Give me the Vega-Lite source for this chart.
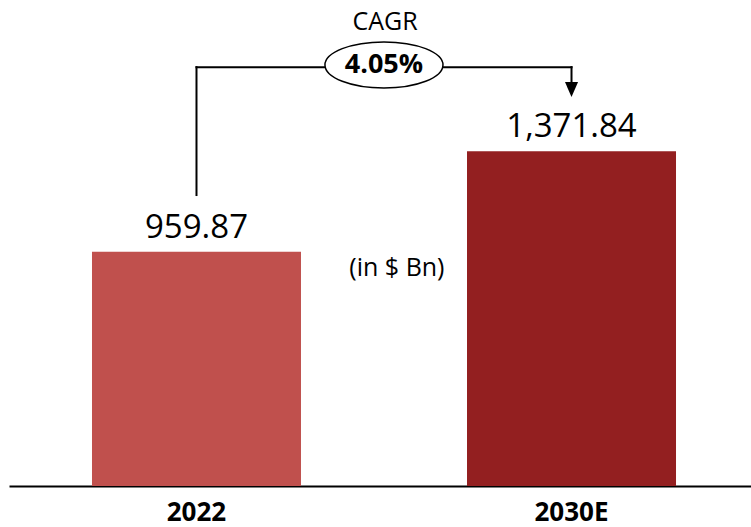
{
  "$schema": "https://vega.github.io/schema/vega-lite/v6.json",
  "width": 751,
  "height": 527,
  "autosize": {"type": "none"},
  "padding": 0,
  "background": "white",
  "config": {"view": {"stroke": null}, "font": "Open Sans"},
  "datasets": {
    "bars": [
      {"year": "2022", "value": 959.87},
      {"year": "2030E", "value": 1371.84}
    ],
    "note": [
      {"cagrLabel": "CAGR", "cagr": "4.05%", "unit": "(in $ Bn)"}
    ]
  },
  "layer": [
    {
      "data": {"name": "bars"},
      "mark": {"type": "bar"},
      "encoding": {
        "x": {
          "field": "year",
          "type": "nominal",
          "scale": {"type": "band", "domain": ["2022", "2030E"], "range": [9, 759], "paddingInner": 0.4427, "paddingOuter": 0.2213},
          "axis": {
            "title": null,
            "orient": "bottom",
            "offset": -41,
            "domainColor": "black",
            "domainWidth": 2,
            "ticks": false,
            "tickSize": 0,
            "grid": false,
            "labelAngle": 0,
            "labelFont": "Open Sans",
            "labelFontWeight": "bold",
            "labelFontSize": 26,
            "labelColor": "black",
            "labelPadding": 13
          }
        },
        "y": {
          "field": "value",
          "type": "quantitative",
          "scale": {"domain": [-168, 1991], "nice": false, "zero": false},
          "axis": null
        },
        "y2": {"datum": 0},
        "color": {
          "field": "year",
          "type": "nominal",
          "scale": {"domain": ["2022", "2030E"], "range": ["#C0504D", "#931F20"]},
          "legend": null
        }
      }
    },
    {
      "data": {"name": "bars"},
      "mark": {"type": "text", "dy": -14, "baseline": "alphabetic", "fontSize": 33, "font": "Open Sans", "color": "black"},
      "encoding": {
        "x": {"field": "year", "type": "nominal"},
        "y": {"field": "value", "type": "quantitative"},
        "text": {"field": "value", "type": "quantitative", "format": ",.2f"}
      }
    },
    {
      "data": {"name": "note"},
      "mark": {"type": "rule", "color": "black", "strokeWidth": 2, "strokeCap": "square"},
      "encoding": {
        "x": {"datum": "2022", "type": "nominal"},
        "y": {"datum": 1192, "type": "quantitative"},
        "y2": {"datum": 1716}
      }
    },
    {
      "data": {"name": "note"},
      "mark": {"type": "rule", "color": "black", "strokeWidth": 2, "strokeCap": "square"},
      "encoding": {
        "x": {"datum": "2022", "type": "nominal"},
        "x2": {"datum": "2030E"},
        "y": {"datum": 1716, "type": "quantitative"}
      }
    },
    {
      "data": {"name": "note"},
      "mark": {"type": "rule", "color": "black", "strokeWidth": 2, "strokeCap": "square"},
      "encoding": {
        "x": {"datum": "2030E", "type": "nominal"},
        "y": {"datum": 1716, "type": "quantitative"},
        "y2": {"datum": 1645}
      }
    },
    {
      "data": {"name": "note"},
      "mark": {"type": "point", "shape": "M-0.87,-1L0.87,-1L0,1Z", "size": 225, "filled": true, "color": "black", "opacity": 1},
      "encoding": {
        "x": {"datum": "2030E", "type": "nominal"},
        "y": {"datum": 1624, "type": "quantitative"}
      }
    },
    {
      "data": {"name": "note"},
      "mark": {"type": "point", "shape": "M-1,0A1,0.39,0,1,1,1,0A1,0.39,0,1,1,-1,0Z", "size": 13924, "filled": true, "fill": "white", "stroke": "black", "strokeWidth": 1.5, "opacity": 1},
      "encoding": {
        "x": {"datum": "2022", "type": "nominal", "bandPosition": 1.397},
        "y": {"datum": 1725, "type": "quantitative"}
      }
    },
    {
      "data": {"name": "note"},
      "mark": {"type": "text", "baseline": "middle", "fontSize": 27, "fontWeight": "bold", "font": "Open Sans", "color": "black"},
      "encoding": {
        "x": {"datum": "2022", "type": "nominal", "bandPosition": 1.397},
        "y": {"datum": 1725, "type": "quantitative"},
        "text": {"field": "cagr"}
      }
    },
    {
      "data": {"name": "note"},
      "mark": {"type": "text", "baseline": "alphabetic", "fontSize": 25, "font": "Open Sans", "color": "black"},
      "encoding": {
        "x": {"datum": "2022", "type": "nominal", "bandPosition": 1.402},
        "y": {"datum": 1868, "type": "quantitative"},
        "text": {"field": "cagrLabel"}
      }
    },
    {
      "data": {"name": "note"},
      "mark": {"type": "text", "baseline": "middle", "fontSize": 25, "font": "Open Sans", "color": "black"},
      "encoding": {
        "x": {"datum": "2022", "type": "nominal", "bandPosition": 1.459},
        "y": {"datum": 895, "type": "quantitative"},
        "text": {"field": "unit"}
      }
    }
  ]
}
